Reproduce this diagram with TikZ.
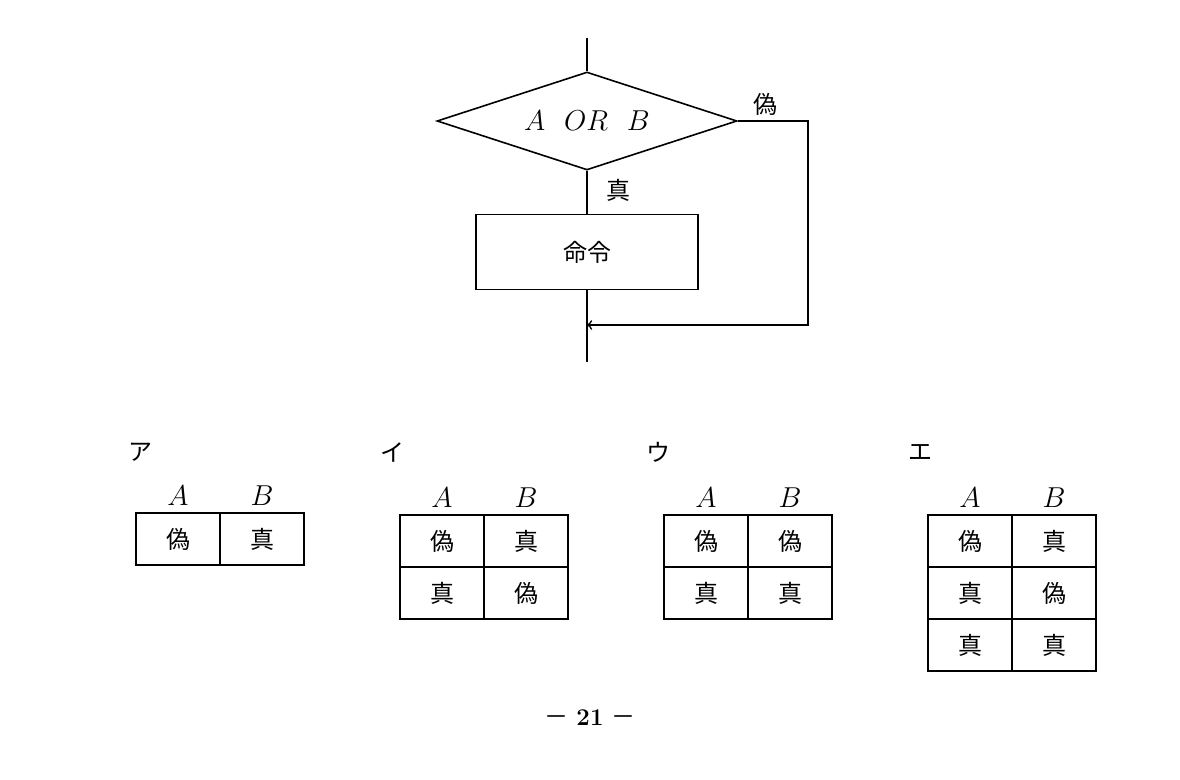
\documentclass[tikz,border=0pt]{standalone}
\usepackage{fontspec}
\newfontfamily\cjk{Noto Sans CJK JP}
\usetikzlibrary{shapes.geometric,arrows,positioning}
\begin{document}
\begin{tikzpicture}[x=0.5pt,y=-0.5pt]
\tikzstyle{cell}=[draw,thick,minimum width=42pt,minimum height=26pt,inner sep=0pt,font=\cjk\large]
\tikzstyle{head}=[font=\Large]
\tikzstyle{lbl}=[font=\cjk\large]
\useasboundingbox (0,0) rectangle (1180,780);
% flowchart
\coordinate (in) at (587,38);
\node[diamond,draw,thick,minimum width=150pt,minimum height=49pt,inner sep=0pt,aspect=3,font=\Large] at (587,121) (cond) {$A\ \ OR\ \ B$};
\node[draw,thick,minimum width=111pt,minimum height=37.5pt,font=\cjk\large] at (587,252) (cmd) {命令};
\coordinate (join) at (587,325);
\coordinate (corner1) at (808,121);
\coordinate (corner2) at (808,325);
\coordinate (out) at (587,362);
\node[lbl] at (765,104) (no) {偽};
\node[lbl] at (618,190) (yes) {真};
\draw[thick] (in) -- (cond.north);
\draw[thick] (cond.south) -- (cmd.north);
\draw[thick] (cmd.south) -- (out);
\draw[thick,-to] (cond.east) -- (corner1) -- (corner2) -- (join);
% answers
\node[lbl] at (140,452) (la) {ア};
\node[lbl] at (392,452) (li) {イ};
\node[lbl] at (658,452) (lu) {ウ};
\node[lbl] at (920,452) (le) {エ};
\foreach \t/\x/\y/\rows in {a/136/513/{偽/真},i/400/515/{偽/真,真/偽},u/664/515/{偽/偽,真/真},e/928/515/{偽/真,真/偽,真/真}}{
  \node[head] at (\x+42,\y-17) (\t-A) {$A$};
  \node[head] at (\x+126,\y-17) (\t-B) {$B$};
  \foreach \p/\q [count=\r] in \rows {
    \node[cell] at (\x+42,\y+26+52*\r-52) (\t-\r-1) {\p};
    \node[cell] at (\x+126,\y+26+52*\r-52) (\t-\r-2) {\q};
  }
}
\node[font=\large] at (590,718) (page) {{\cjk －}\,\,\textbf{21}\,\,{\cjk －}};
\end{tikzpicture}
\end{document}
